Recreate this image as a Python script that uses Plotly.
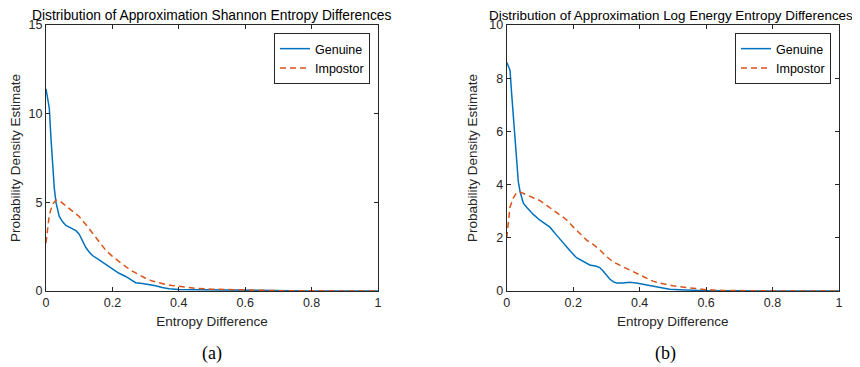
import plotly.graph_objects as go

# ---- data ----
a_gen_x = [0, 0.005, 0.01, 0.015, 0.02, 0.025, 0.03, 0.035, 0.04, 0.05, 0.06, 0.07, 0.08, 0.09, 0.1,
           0.11, 0.12, 0.13, 0.14, 0.16, 0.18, 0.2, 0.22, 0.24, 0.26, 0.27, 0.29, 0.31, 0.33, 0.35,
           0.37, 0.4, 0.45, 0.5, 0.55, 0.6, 0.7, 0.8, 1.0]
a_gen_y = [11.4, 10.9, 10.3, 8.6, 7.0, 5.8, 5.0, 4.5, 4.2, 3.9, 3.7, 3.6, 3.5, 3.4, 3.2,
           2.85, 2.45, 2.2, 2.0, 1.75, 1.5, 1.2, 1.0, 0.82, 0.58, 0.47, 0.42, 0.38, 0.3, 0.2,
           0.13, 0.08, 0.07, 0.05, 0.03, 0.02, 0.01, 0.005, 0]

a_imp_x = [0, 0.005, 0.01, 0.02, 0.03, 0.04, 0.06, 0.08, 0.1, 0.12, 0.14, 0.16, 0.18, 0.2, 0.22,
           0.24, 0.26, 0.28, 0.3, 0.32, 0.34, 0.36, 0.38, 0.4, 0.45, 0.5, 0.55, 0.6, 0.65, 0.7, 0.8, 1.0]
a_imp_y = [2.7, 3.6, 4.3, 4.9, 5.13, 5.1, 4.8, 4.55, 4.2, 3.75, 3.25, 2.75, 2.3, 1.95, 1.65,
           1.38, 1.12, 0.9, 0.72, 0.56, 0.45, 0.37, 0.31, 0.26, 0.15, 0.1, 0.07, 0.05, 0.03, 0.02, 0.01, 0]

b_gen_x = [0, 0.005, 0.01, 0.015, 0.02, 0.025, 0.03, 0.035, 0.04, 0.05, 0.06, 0.07, 0.08, 0.1, 0.12,
           0.13, 0.15, 0.17, 0.19, 0.21, 0.23, 0.25, 0.27, 0.28, 0.29, 0.3, 0.31, 0.32, 0.33, 0.35,
           0.37, 0.39, 0.41, 0.43, 0.45, 0.47, 0.49, 0.52, 0.55, 0.6, 0.7, 1.0]
b_gen_y = [8.6, 8.45, 8.3, 7.4, 6.6, 5.6, 4.7, 4.1, 3.75, 3.3, 3.15, 3.0, 2.88, 2.66, 2.5,
           2.4, 2.1, 1.8, 1.52, 1.25, 1.1, 0.98, 0.93, 0.88, 0.75, 0.6, 0.45, 0.35, 0.3, 0.3,
           0.33, 0.3, 0.25, 0.2, 0.17, 0.12, 0.07, 0.05, 0.04, 0.01, 0.005, 0]

b_imp_x = [0, 0.005, 0.01, 0.02, 0.03, 0.04, 0.06, 0.08, 0.1, 0.12, 0.14, 0.16, 0.18, 0.2, 0.22,
           0.24, 0.26, 0.28, 0.3, 0.32, 0.34, 0.36, 0.38, 0.4, 0.42, 0.44, 0.46, 0.48, 0.5, 0.55,
           0.6, 0.65, 0.7, 0.8, 1.0]
b_imp_y = [2.0, 2.6, 3.16, 3.5, 3.7, 3.72, 3.62, 3.5, 3.4, 3.22, 3.04, 2.88, 2.68, 2.41, 2.15,
           1.92, 1.75, 1.55, 1.3, 1.1, 0.97, 0.85, 0.7, 0.58, 0.46, 0.37, 0.3, 0.25, 0.2, 0.12,
           0.05, 0.02, 0.01, 0.005, 0]

titles = ["Distribution of Approximation Shannon Entropy Differences",
          "Distribution of Approximation Log Energy Entropy Differences"]
captions = ["(a)", "(b)"]
x_ticks = [0, 0.2, 0.4, 0.6, 0.8, 1]
a_y_ticks = [0, 5, 10, 15]
b_y_ticks = [0, 2, 4, 6, 8, 10]

BLUE = "#0072BD"
ORANGE = "#D95319"
AX = "#262626"
FONT = "Liberation Sans, Arial, sans-serif"
SERIF = "Liberation Serif, Times New Roman, serif"

fig = go.Figure()
fig.add_trace(go.Scatter(x=a_gen_x, y=a_gen_y, mode="lines", name="Genuine",
                         line=dict(color=BLUE, width=1.5), xaxis="x", yaxis="y", legend="legend"))
fig.add_trace(go.Scatter(x=a_imp_x, y=a_imp_y, mode="lines", name="Impostor",
                         line=dict(color=ORANGE, width=1.5, dash="6px,4px"), xaxis="x", yaxis="y", legend="legend"))
fig.add_trace(go.Scatter(x=b_gen_x, y=b_gen_y, mode="lines", name="Genuine",
                         line=dict(color=BLUE, width=1.5), xaxis="x2", yaxis="y2", legend="legend2"))
fig.add_trace(go.Scatter(x=b_imp_x, y=b_imp_y, mode="lines", name="Impostor",
                         line=dict(color=ORANGE, width=1.5, dash="6px,4px"), xaxis="x2", yaxis="y2", legend="legend2"))

# page body has an 8px margin: figure is offset by (8, 8) in the window
OFF = 8
W, H = 860 - OFF, 367 - OFF

def px(x):
    return (x - OFF) / W

def py(y):
    return 1 - (y - OFF) / H

yd = [py(291), py(25)]

def xax(domain, anchor):
    return dict(domain=domain, anchor=anchor, range=[0, 1], tickvals=x_ticks,
                ticktext=["0", "0.2", "0.4", "0.6", "0.8", "1"], automargin=False,
                showline=True, linecolor=AX, linewidth=1, mirror="ticks",
                ticks="inside", ticklen=4, tickcolor=AX, showgrid=False, zeroline=False,
                tickfont=dict(family=FONT, size=12.5, color=AX),
                title=dict(text="Entropy Difference", font=dict(family=FONT, size=13.5, color=AX), standoff=7))

def yax(domain, anchor, rng, ticks):
    return dict(domain=domain, anchor=anchor, range=rng, tickvals=ticks, automargin=False,
                showline=True, linecolor=AX, linewidth=1, mirror="ticks",
                ticks="inside", ticklen=4, tickcolor=AX, showgrid=False, zeroline=False,
                tickfont=dict(family=FONT, size=12.5, color=AX),
                title=dict(text="Probability Density Estimate", font=dict(family=FONT, size=13.5, color=AX), standoff=8))

leg_common = dict(bgcolor="white", bordercolor="#262626", borderwidth=1,
                  font=dict(family=FONT, size=12.5, color="black"),
                  xanchor="left", yanchor="top", tracegroupgap=0, itemwidth=30)

fig.update_layout(
    width=W, height=H, margin=dict(l=0, r=0, t=0, b=0),
    paper_bgcolor="white", plot_bgcolor="white",
    xaxis=xax([px(46), px(378)], "y"),
    yaxis=yax(yd, "x", [0, 15], a_y_ticks),
    xaxis2=xax([px(506.7), px(839)], "y2"),
    yaxis2=yax(yd, "x2", [0, 10], b_y_ticks),
    legend=dict(x=px(274), y=py(33), **leg_common),
    legend2=dict(x=px(735), y=py(33), **leg_common),
    annotations=[
        dict(text=titles[0], x=px(212), y=py(15), xref="paper", yref="paper",
             showarrow=False, font=dict(family=FONT, size=13.8, color="black"), xanchor="center", yanchor="middle"),
        dict(text=titles[1], x=px(671), y=py(15), xref="paper", yref="paper",
             showarrow=False, font=dict(family=FONT, size=13.4, color="black"), xanchor="center", yanchor="middle"),
        dict(text=captions[0], x=px(212), y=py(353), xref="paper", yref="paper",
             showarrow=False, font=dict(family=SERIF, size=18, color="black"),
             xanchor="center", yanchor="middle"),
        dict(text=captions[1], x=px(665), y=py(353), xref="paper", yref="paper",
             showarrow=False, font=dict(family=SERIF, size=18, color="black"),
             xanchor="center", yanchor="middle"),
    ],
)

fig.write_html("out.html")
